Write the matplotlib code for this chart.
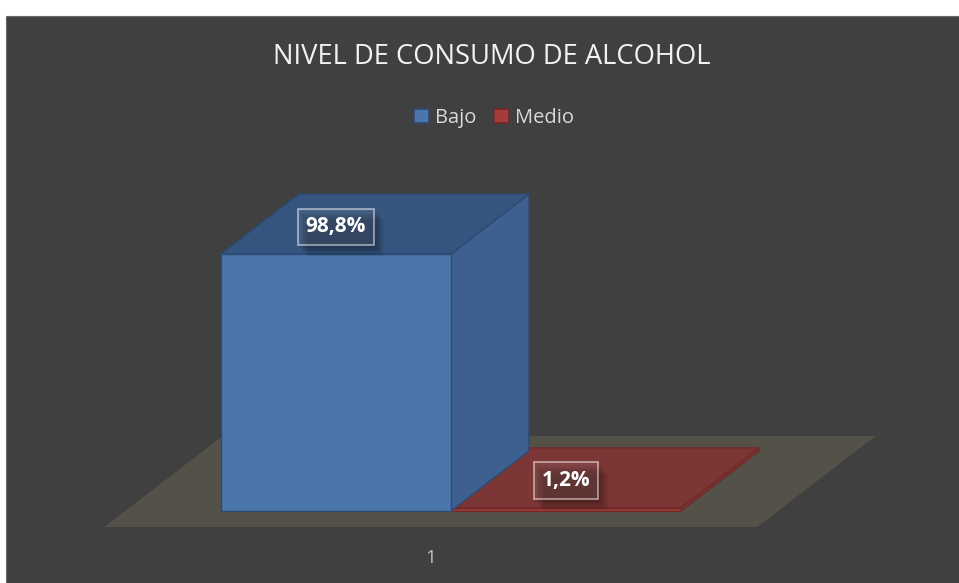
import numpy as np
import matplotlib.pyplot as plt
import matplotlib.patheffects as pe
from matplotlib.patches import Polygon, Rectangle, Patch

# data
categories = ['1']
series = ['Bajo', 'Medio']
values = [98.8, 1.2]
value_labels = ['98,8%', '1,2%']

front_colors = ['#4A76AC', '#A33C3A']
top_colors = ['#36557E', '#7B3635']
side_colors = ['#3E6090', '#8A3533']
edge_colors = ['#2C4A73', '#6E2A29']

plt.rcParams['font.family'] = ['Open Sans', 'DejaVu Sans']

W, H = 959, 583
fig = plt.figure(figsize=(W / 100, H / 100), dpi=100, facecolor='white')
fig.patches.append(Rectangle((6 / W, 0), (W - 6) / W, (H - 16) / H,
                             transform=fig.transFigure, facecolor='#404040',
                             edgecolor='#6a6a6a', lw=0.8, zorder=-5))

# plotting axes: x in bar widths, y in percent
px_x = 230.0
px_y = 257 / 98.8
x0_px, y0_px = 221, 511
ax = fig.add_axes([0, 0, 1, 1])
ax.set_zorder(2)
ax.set_xlim(-x0_px / px_x, (W - x0_px) / px_x)
ax.set_ylim(-(H - y0_px) / px_y, y0_px / px_y)
ax.axis('off')

# oblique depth vector
ddx = 78 / px_x
ddy = 60 / px_y

# floor
df, db = -0.267, 1.25
xl, xr = -0.417, 2.422
floor = [(xl + df * ddx, df * ddy), (xr + df * ddx, df * ddy),
         (xr + db * ddx, db * ddy), (xl + db * ddx, db * ddy)]
ax.add_patch(Polygon(floor, closed=True, facecolor='#545148', edgecolor='none', zorder=1))

# bars, drawn right to left
for i in reversed(range(len(values))):
    v = values[i]
    x = i
    ec = edge_colors[i]
    front = [(x, 0), (x + 1, 0), (x + 1, v), (x, v)]
    top = [(x, v), (x + 1, v), (x + 1 + ddx, v + ddy), (x + ddx, v + ddy)]
    side = [(x + 1, 0), (x + 1 + ddx, ddy), (x + 1 + ddx, v + ddy), (x + 1, v)]
    ax.add_patch(Polygon(side, closed=True, facecolor=side_colors[i], edgecolor=ec, lw=1, zorder=2))
    ax.add_patch(Polygon(top, closed=True, facecolor=top_colors[i], edgecolor=ec, lw=1, zorder=2))
    ax.add_patch(Polygon(front, closed=True, facecolor=front_colors[i], edgecolor=ec, lw=1, zorder=2))

# value labels with a soft-ish shadow
shadow = [pe.SimplePatchShadow(offset=(o, -o - 1), shadow_rgbFace='black', alpha=0.05)
          for o in range(1, 8)]
for i, v in enumerate(values):
    t = ax.text(i + 0.5, v + 10.4, value_labels[i], ha='center', va='center',
                fontsize=15, fontweight='bold', color='white', zorder=5,
                bbox=dict(boxstyle='square,pad=0.38', facecolor=(1, 1, 1, 0.08),
                          edgecolor=(1, 1, 1, 0.55), lw=1.2))
    t.get_bbox_patch().set_path_effects(shadow + [pe.Normal()])

# category label
ax.text((xl + xr) / 2 + df * ddx, df * ddy - 12, categories[0], ha='center', va='center',
        fontsize=13.5, color='#BFBFBF', zorder=5)

# title
fig.text(492 / W, 1 - 57 / H, 'NIVEL DE CONSUMO DE ALCOHOL', ha='center', va='center',
         fontsize=19.7, color='#F2F2F2')

# legend
handles = [Patch(facecolor=front_colors[k], edgecolor=edge_colors[k], lw=1.2, label=series[k])
           for k in range(len(series))]
fig.legend(handles=handles, loc='center', bbox_to_anchor=(494 / W, 1 - 118 / H), ncol=2,
           frameon=False, fontsize=14.5, labelcolor='#D9D9D9', handlelength=0.72,
           handleheight=0.72, handletextpad=0.3, columnspacing=0.9)

fig.savefig('out.png', dpi=100, facecolor='white')
